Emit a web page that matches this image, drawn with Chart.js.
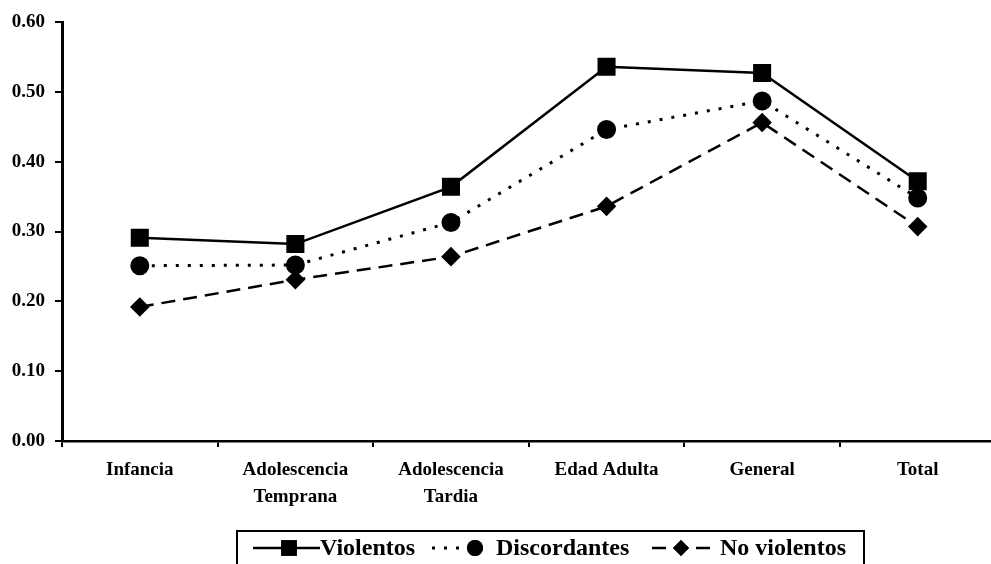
<!DOCTYPE html>
<html>
<head>
<meta charset="utf-8">
<script src="https://cdn.jsdelivr.net/npm/chart.js@4.4.0/dist/chart.umd.min.js"></script>
<style>
  html, body { margin: 0; padding: 0; background: #fff; overflow: hidden; }
  #wrap { width: 991px; height: 564px; overflow: hidden; }
</style>
</head>
<body>
<div id="wrap"><canvas id="chart" width="1009" height="564"></canvas></div>
<script>
// categories and series
const categories = ['Infancia', ['Adolescencia', 'Temprana'], ['Adolescencia', 'Tardia'], 'Edad Adulta', 'General', 'Total'];
const violentos = [0.291, 0.282, 0.364, 0.536, 0.527, 0.372];
const discordantes = [0.251, 0.252, 0.313, 0.446, 0.487, 0.348];
const noViolentos = [0.192, 0.231, 0.264, 0.336, 0.456, 0.307];
const yTicks = [0, 0.1, 0.2, 0.3, 0.4, 0.5, 0.6];

const FONT = 'Liberation Serif';

// legend in a framed box under the plot
const boxLegend = {
  id: 'boxLegend',
  afterDraw(chart) {
    const ctx = chart.ctx;
    ctx.save();
    ctx.strokeStyle = '#000';
    ctx.lineWidth = 2;
    ctx.strokeRect(237, 531, 627, 45);

    const items = [
      { ds: 0, x1: 253, x2: 320, px: 289, tx: 320 },
      { ds: 1, x1: 432, x2: 492, px: 475, tx: 496 },
      { ds: 2, x1: 652, x2: 714, px: 681, tx: 720 },
    ];
    const y = 548;
    items.forEach(it => {
      const d = chart.data.datasets[it.ds];
      ctx.beginPath();
      ctx.setLineDash(d.borderDash || []);
      ctx.lineWidth = d.borderWidth;
      ctx.strokeStyle = '#000';
      ctx.moveTo(it.x1, y);
      ctx.lineTo(it.x2, y);
      ctx.stroke();
      ctx.setLineDash([]);
      Chart.helpers.drawPoint(ctx, {
        pointStyle: d.pointStyle, radius: d.pointRadius, borderWidth: 0
      }, it.px, y);
      ctx.fillStyle = '#000';
      ctx.fill();
      ctx.font = 'bold 24px "' + FONT + '"';
      ctx.textBaseline = 'middle';
      ctx.textAlign = 'left';
      ctx.fillText(d.label, it.tx, y + 1);
    });
    ctx.restore();
  }
};

new Chart(document.getElementById('chart'), {
  type: 'line',
  data: {
    labels: categories,
    datasets: [
      {
        label: 'Violentos',
        data: violentos,
        borderColor: '#000',
        backgroundColor: '#000',
        borderWidth: 2.5,
        pointStyle: 'rect',
        pointRadius: 11,
        tension: 0,
      },
      {
        label: 'Discordantes',
        data: discordantes,
        borderColor: '#000',
        backgroundColor: '#000',
        borderWidth: 3,
        borderDash: [3, 9],
        pointStyle: 'circle',
        pointRadius: 8,
        tension: 0,
      },
      {
        label: 'No violentos',
        data: noViolentos,
        borderColor: '#000',
        backgroundColor: '#000',
        borderWidth: 2.5,
        borderDash: [14, 8],
        pointStyle: 'rectRot',
        pointRadius: 8,
        tension: 0,
      },
    ],
  },
  options: {
    responsive: false,
    animation: false,
    layout: { padding: { top: 22, right: 0, bottom: 0, left: 0 } },
    plugins: { legend: { display: false }, tooltip: { enabled: false } },
    elements: { point: { borderWidth: 0 } },
    scales: {
      x: {
        offset: true,
        afterFit: s => { s.height = 123; },
        grid: { drawOnChartArea: false, drawTicks: true, tickLength: 6, color: '#000', lineWidth: 2, offset: true },
        border: { color: '#000', width: 2.5 },
        ticks: { color: '#000', padding: 10, maxRotation: 0, autoSkip: false, font: { family: FONT, size: 19, weight: 'bold', lineHeight: 1.4 } },
      },
      y: {
        min: 0,
        max: 0.6,
        afterFit: s => { s.width = 62; },
        afterBuildTicks: s => { s.ticks = yTicks.map(v => ({ value: v })); },
        grid: { drawOnChartArea: false, drawTicks: true, tickLength: 7, color: '#000', lineWidth: 2 },
        border: { color: '#000', width: 3 },
        ticks: { color: '#000', padding: 10, callback: v => v.toFixed(2), font: { family: FONT, size: 19, weight: 'bold' } },
      },
    },
  },
  plugins: [boxLegend],
});
</script>
</body>
</html>
